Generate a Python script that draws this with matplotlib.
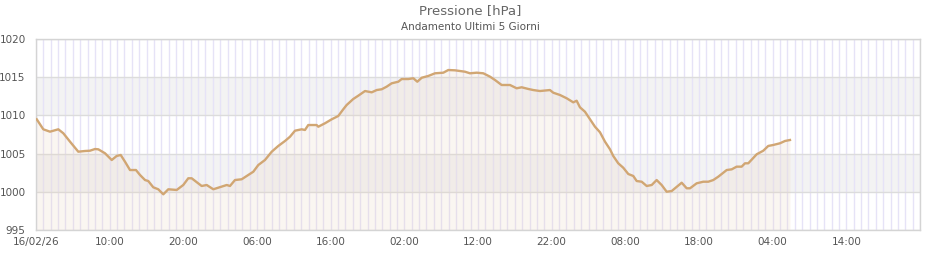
import matplotlib
matplotlib.use("Agg")
import matplotlib.pyplot as plt
from matplotlib.ticker import MultipleLocator

# hours since 16/02/26 00:00 and pressure readings (hPa)
hours = [0.1, 0.99, 1.9, 3.03, 3.71, 4.62, 5.74, 6.65, 7.33, 8.01, 8.46, 9.37,
         10.28, 10.95, 11.5, 12.08, 12.76, 13.57, 14.12, 14.8, 15.24, 15.92,
         16.6, 17.28, 17.96, 19.1, 19.99, 20.67, 21.13, 22.49, 23.17, 24.07,
         24.75, 25.89, 26.33, 27.01, 27.92, 28.82, 29.5, 30.18, 31.08, 32.0,
         32.89, 33.8, 34.48, 35.16, 36.07, 36.51, 36.96, 38.1, 38.32, 39.23,
         40.14, 41.03, 41.71, 42.17, 43.07, 43.75, 44.66, 45.57, 46.25, 46.93,
         47.6, 48.28, 49.18, 49.64, 50.54, 51.22, 51.76, 52.36, 53.25, 54.16,
         55.29, 55.97, 56.88, 57.55, 58.23, 58.91, 59.82, 60.72, 61.63, 62.31,
         63.21, 64.34, 65.25, 65.93, 66.83, 67.5, 68.41, 69.77, 70.22, 71.13,
         72.04, 72.93, 73.39, 73.84, 74.52, 75.2, 75.88, 76.56, 77.24, 77.92,
         78.36, 79.04, 79.72, 80.4, 81.08, 81.54, 82.22, 82.9, 83.58, 84.25,
         84.93, 85.61, 86.29, 86.74, 87.65, 88.33, 88.78, 89.68, 90.58, 91.26,
         91.94, 92.62, 93.76, 94.44, 95.11, 95.79, 96.24, 96.69, 97.83, 98.73,
         99.4, 100.08, 100.99, 101.67, 102.35]
pressure = [1009.49, 1008.18, 1007.87, 1008.18, 1007.66, 1006.56, 1005.25, 1005.34,
            1005.38, 1005.6, 1005.56, 1005.04, 1004.16, 1004.69, 1004.82, 1003.94,
            1002.85, 1002.85, 1002.2, 1001.54, 1001.41, 1000.59, 1000.33, 999.67,
            1000.33, 1000.24, 1000.89, 1001.77, 1001.77, 1000.76, 1000.89, 1000.33,
            1000.54, 1000.89, 1000.76, 1001.54, 1001.64, 1002.2, 1002.63, 1003.51,
            1004.16, 1005.25, 1006.0, 1006.65, 1007.21, 1008.0, 1008.18, 1008.09,
            1008.74, 1008.74, 1008.52, 1008.97, 1009.49, 1009.92, 1010.8, 1011.36,
            1012.15, 1012.58, 1013.19, 1013.02, 1013.32, 1013.42, 1013.76, 1014.2,
            1014.41, 1014.76, 1014.76, 1014.86, 1014.41, 1014.93, 1015.16, 1015.51,
            1015.59, 1015.94, 1015.9, 1015.81, 1015.72, 1015.51, 1015.59, 1015.51,
            1015.07, 1014.63, 1013.98, 1013.98, 1013.55, 1013.68, 1013.46, 1013.32,
            1013.19, 1013.32, 1012.97, 1012.67, 1012.24, 1011.71, 1011.92, 1011.06,
            1010.48, 1009.49, 1008.52, 1007.79, 1006.56, 1005.56, 1004.69, 1003.73,
            1003.15, 1002.33, 1002.07, 1001.41, 1001.32, 1000.76, 1000.89, 1001.54,
            1000.89, 1000.01, 1000.1, 1000.46, 1001.19, 1000.46, 1000.46, 1001.11,
            1001.32, 1001.32, 1001.54, 1001.98, 1002.85, 1002.94, 1003.29, 1003.29,
            1003.73, 1003.73, 1004.91, 1005.38, 1006.0, 1006.13, 1006.35, 1006.65,
            1006.78]

x_ticks = [0, 10, 20, 30, 40, 50, 60, 70, 80, 90, 100, 110]
x_labels = ["16/02/26", "10:00", "20:00", "06:00", "16:00", "02:00",
            "12:00", "22:00", "08:00", "18:00", "04:00", "14:00"]
y_ticks = [995, 1000, 1005, 1010, 1015, 1020]
grey_bands = [(1000, 1005), (1010, 1015)]

fig = plt.figure(figsize=(9.4, 2.6), dpi=100)
ax = fig.add_axes([36 / 940, 1 - 230 / 260, 884 / 940, 191 / 260])

ax.set_xlim(0, 120)
ax.set_ylim(995, 1020)

# alternating bands
for lo, hi in grey_bands:
    ax.axhspan(lo, hi, color="#f3f3f3", lw=0, zorder=0)

# hourly vertical grid + horizontal lines
ax.xaxis.set_minor_locator(MultipleLocator(1))
ax.grid(True, axis="x", which="both", color="#e6e3f7", lw=1, zorder=1)
ax.grid(True, axis="y", which="major", color="#dcdcdc", lw=1, zorder=1)
ax.set_axisbelow(True)

ax.fill_between(hours, pressure, 995, color="#e8cfb6", alpha=0.18, lw=0, zorder=2)
ax.plot(hours, pressure, color="#d1a673", lw=1.7, zorder=3)

ax.set_xticks(x_ticks)
ax.set_xticklabels(x_labels)
ax.set_yticks(y_ticks)
ax.tick_params(axis="both", which="both", length=0, labelsize=7.5, colors="#555555")
ax.tick_params(axis="x", pad=5)
ax.tick_params(axis="y", pad=7.5)

for side in ["top", "bottom", "left", "right"]:
    ax.spines[side].set_color("#d4d4d4")
    ax.spines[side].set_linewidth(1)

fig.text(0.5, 1 - 11 / 260, "Pressione [hPa]", ha="center", va="center",
         fontsize=9.5, color="#666666")
fig.text(0.5, 1 - 27 / 260, "Andamento Ultimi 5 Giorni", ha="center", va="center",
         fontsize=7.5, color="#555555")

fig.savefig("out.png", dpi=100)
